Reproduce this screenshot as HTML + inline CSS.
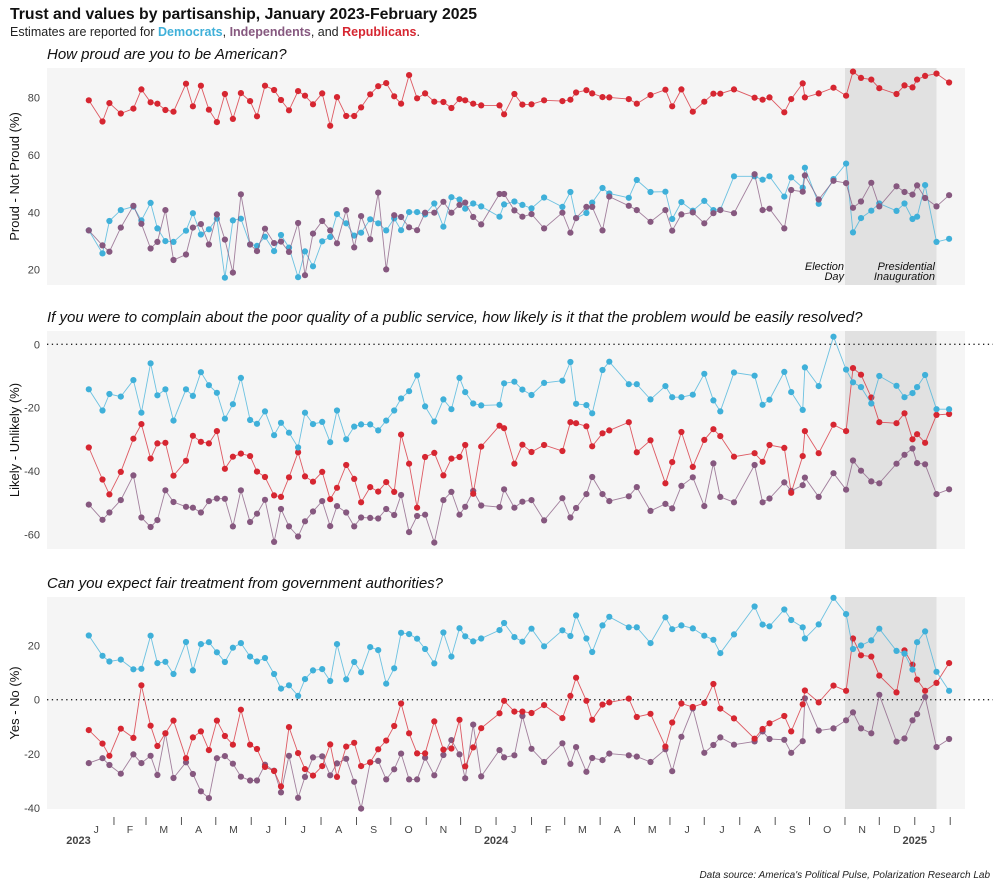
<!DOCTYPE html>
<html><head><meta charset="utf-8">
<style>
body{margin:0;background:#fff;font-family:"Liberation Sans",sans-serif;}
svg text{font-family:"Liberation Sans",sans-serif;}
</style></head>
<body>
<svg id="chart" width="1000" height="881" viewBox="0 0 1000 881" xmlns="http://www.w3.org/2000/svg">
<text x="10" y="19" font-size="15.8" font-weight="bold" fill="#111">Trust and values by partisanship, January 2023-February 2025</text>
<text x="10" y="36" font-size="12.5" fill="#222">Estimates are reported for <tspan fill="#3fb0d9" font-weight="bold">Democrats</tspan>, <tspan fill="#86587f" font-weight="bold">Independents</tspan>, and <tspan fill="#d62631" font-weight="bold">Republicans</tspan>.</text>
<text x="990" y="878" font-size="10" font-style="italic" text-anchor="end" fill="#222">Data source: America's Political Pulse, Polarization Research Lab</text>
<g id="panels"></g>
</svg>
<script>
const days = [9,21,27,37,48,55,63,69,76,83,94,100,107,114,121,128,135,142,150,156,163,171,177,184,192,198,205,213,220,226,234,241,247,255,262,269,276,282,289,296,303,311,319,326,333,338,345,352,
368,372,381,388,396,407,423,430,435,444,449,458,464,481,488,500,513,519,527,537,547,555,561,573,591,598,604,617,623,633,635,647,660,671,677,684,693,700,715,722,729,733,740,750,761];

const proudRep = [79.1,71.7,78.1,74.5,76.2,82.9,78.4,77.9,75.7,75.1,84.9,77,84.2,75.8,71.5,81.3,72.6,81.6,78.8,73.5,84.2,82.7,79.2,75.6,82.3,80.7,77.7,81.5,70.2,80.2,73.6,73.6,76.6,81.2,84,85.1,80.5,77.9,87.9,79.8,81.5,78.6,78.5,76.4,79.5,79.1,77.9,77.3,
77.3,74.2,81.3,77.6,77.7,79.1,78.8,79.3,81.8,82.6,81.5,80.2,80.1,79.5,77.9,80.9,82.8,77,82.9,75.1,78.6,81.4,81.4,82.9,80,79.3,80.1,74.9,79.5,85,80.1,81.5,83.5,80.7,89.1,86.9,86.3,83.3,81.3,84.3,83.6,86.3,87.6,88.4,85.3];
const proudDem = [33.7,25.7,37,40.8,42,37.2,43.3,34.4,30,29.7,33.6,39.7,32.3,34.1,37.8,17.2,37.2,37.8,28.8,28.3,31.5,26.5,32.1,27.7,17.4,26.4,21.2,29.9,31.4,39.4,36.2,31.9,32.9,37.6,36.2,33.7,37.9,33.8,40.1,40.1,39.3,43.1,35,45.3,44.5,41.3,43.1,42.1,
38.5,42.8,43.8,42.6,41.4,45.2,41.9,47.1,38,39.8,43.4,48.5,46.6,45.1,51.3,47.1,47.2,37.7,43.6,40.6,44,40.8,40.9,52.6,52.6,51.4,52.6,45.5,52.2,48.6,55.6,43,51.6,57,33,38,40.6,43.1,40.5,43.1,37.7,38.5,49.5,29.7,30.8];
const proudInd = [33.7,28.5,26.3,34.7,42.3,36,27.4,29.7,40.8,23.4,25.3,34.7,35.9,28.8,39.3,30.5,19,46.3,28.8,26.5,34.3,29.3,29.8,26.2,36.3,18.1,32.6,37,33.7,29.2,40.8,27.8,38.7,30.6,46.9,20.1,39,38.4,34.8,33.8,39.9,39.9,43.7,39.9,42.6,43.4,38.4,35.8,
46.4,46.4,40.7,38.5,39.4,34.4,39.9,32.9,38,41.9,41.9,33.7,45.5,42.3,40.8,36.7,40.8,33.6,39.3,40,36.2,39.7,40.8,39.7,53.3,40.8,41.3,34.4,47.8,47.2,52.9,44.5,51,50.2,41.6,43.8,50.3,42.1,49.1,47.1,46.2,49.4,45,42.1,46];

const compDem = [-14.2,-20.9,-15.7,-16.5,-11.3,-21.6,-6,-16.1,-14.2,-24.1,-14.2,-16.3,-8.8,-12.9,-15.3,-23.5,-18.9,-10.6,-23.9,-25.1,-21.2,-28.7,-24.8,-27.9,-32.6,-21.6,-25.2,-24.5,-30.9,-20.9,-30,-26,-25.3,-25.3,-27.2,-24.1,-20.9,-17.1,-14.8,-9.8,-19.6,-24.4,-17.4,-20.5,-10.6,-15.1,-18.7,-19.3,
-19.1,-12.3,-11.8,-14.3,-16,-12.2,-11.5,-5.6,-18.8,-19.2,-21.8,-8.1,-5.5,-12.6,-12.6,-17.4,-13.2,-16.7,-16.7,-15.9,-9.3,-17.7,-21.2,-8.9,-9.9,-19.1,-17.5,-8.7,-15.1,-20.7,-7.3,-13.2,2.4,-8,-12,-13.5,-18.7,-10,-13.1,-16.7,-15.4,-13.5,-9.7,-20.5,-20.5];
const compRep = [-32.6,-42.7,-47.4,-40.3,-29.8,-25.2,-36.1,-31.3,-31.1,-41.5,-36.8,-28.9,-30.8,-31.3,-27.4,-39.3,-35.5,-34.5,-35.3,-40.2,-41.9,-47.7,-48.2,-42,-34.1,-41.7,-43.4,-40.3,-48.9,-45.3,-38.1,-42.5,-49.9,-45.1,-46.5,-43.5,-46.6,-28.5,-37.7,-51.6,-35.6,-34.3,-41.4,-36.1,-35.6,-31.8,-47.2,-32.3,
-25.7,-26.5,-37.7,-31.7,-34,-31.8,-33.7,-24.6,-24.9,-25.9,-32.2,-28.1,-27.2,-24.6,-34.1,-30.3,-43.9,-37.2,-27.7,-38.7,-30.2,-26.8,-29,-35.5,-34.4,-37.1,-31.8,-32.7,-46.9,-35.3,-27.4,-34.4,-25.4,-27.4,-7.5,-9.6,-16.8,-24.6,-24.9,-21.8,-30,-28.4,-31.1,-22.3,-22];
const compInd = [-50.6,-55.4,-53.1,-49.2,-41.4,-54.7,-57.7,-55.5,-46.1,-49.8,-51.3,-51.6,-53.1,-49.5,-48.7,-48.8,-57.5,-46.1,-56.1,-53.5,-49.1,-62.4,-52,-57.5,-60.7,-55.9,-52.8,-49.5,-57.4,-51.1,-53.1,-57.5,-54.7,-54.8,-55,-52,-53.9,-47.6,-59.3,-54.2,-53.8,-62.6,-49.2,-46.6,-53.8,-51.3,-46.3,-50.9,
-51.4,-45.8,-51.6,-49.7,-49.2,-55.6,-48.6,-54.7,-51.7,-47.3,-41.9,-47.3,-49.5,-48,-45.1,-52.6,-50.4,-51.8,-44.7,-42,-51.1,-37.6,-48.2,-49.9,-38.1,-49.9,-48.7,-43.6,-46.3,-44.5,-42.1,-48.2,-40.7,-45.9,-36.7,-39.9,-43.3,-43.9,-37.7,-34.9,-32.9,-37.5,-37.9,-47.3,-45.8];

const fairDem = [23.7,16.2,14.1,14.8,11.2,11.4,23.6,13.5,14,9.5,21.3,10.8,20.5,21.2,17.5,13.9,19.2,20.9,15.9,14.1,15.4,9.5,4.1,5.3,1.4,7.6,10.8,11.3,6.9,20.5,7.5,13.9,10.1,19.4,18.3,5.9,11.6,24.7,24.2,22.5,18.7,13.4,24.8,15.9,26.4,23.4,21.5,22.6,
25.7,28.3,23.1,21.4,26.2,19.7,25.6,23.5,31.1,22.6,17.6,27.4,30.6,26.7,26.7,20.9,30.4,26,27.4,26.3,23.6,22.1,17.2,24.1,34.4,27.7,27.1,33.3,29.4,26.7,22.6,27.8,37.6,31.6,18.7,20,21.9,26.2,18,17,11.1,21.2,25.2,10.3,3.3];
const fairRep = [-11.2,-16.2,-20.7,-10.7,-14.1,5.3,-9.6,-17.1,-12.4,-7.7,-21.6,-13.9,-11.7,-18.6,-7.7,-13.4,-16.6,-3.7,-16.6,-18.2,-24.8,-26.3,-32,-10.1,-19.7,-25.6,-28,-24.5,-16.5,-28.5,-17.3,-15.9,-24.5,-23.1,-18.3,-15.1,-9.7,-1.4,-12.4,-19.8,-19.8,-8,-18.4,-18,-7.4,-24.6,-17.6,-10.5,
-5,-0.4,-4.4,-4.4,-4.9,-2,-6.8,1.4,8.1,-0.4,-7.4,-1.8,-1,0.4,-6.4,-5.2,-17.3,-8.4,-1.4,-2.7,-1.2,5.8,-3.3,-6.9,-14.4,-10.8,-8.7,-6,-11.7,-1.7,3.4,-1,5.2,3.3,22.6,16.4,15.9,8.9,2.7,18.2,12.9,7.4,3.3,6.2,13.5];
const fairInd = [-23.4,-21.6,-24.1,-27.3,-20.2,-23.4,-20.7,-27.8,-12.4,-28.9,-23.1,-27.4,-33.8,-36.3,-21.6,-20.8,-23.6,-28.4,-29.8,-29.8,-24,-26.2,-34.2,-20.7,-36.2,-28.5,-21.3,-20.9,-27.9,-23.5,-21.8,-30.3,-40.2,-23.1,-22.6,-29.4,-25.7,-19.9,-29.4,-29.4,-21.4,-27.9,-20.4,-14.9,-20.2,-29,-9.2,-28.3,
-18.6,-21.3,-20.5,-6,-18.1,-23,-16.1,-23.7,-17.5,-26.6,-21.5,-22.3,-19.9,-20.5,-21,-23,-18.3,-26.4,-13.7,-3.2,-19.6,-16.7,-13.9,-16.6,-15.4,-11.7,-14.5,-14.8,-19.6,-15.3,0.5,-11.4,-10.6,-7.6,-4.7,-10.6,-12.4,1.8,-15.5,-14.3,-7.6,-5.3,1,-17.5,-14.5];

const monthLabels = ["J","F","M","A","M","J","J","A","S","O","N","D","J","F","M","A","M","J","J","A","S","O","N","D","J"];
const monthStartDays = [0,31,59,90,120,151,181,212,243,273,304,334,365,396,425,456,486,517,547,578,609,639,670,700,731,762];
const yearLabels = ["2023","2024","2025"];
const yearDays = [0,365,731];
const ticks1 = [80,60,40,20], ticks2 = [0,-20,-40,-60], ticks3 = [20,0,-20,-40];
const electionDay = 674, inaugurationDay = 750;

const NS = "http://www.w3.org/2000/svg";
const root = document.getElementById('panels');
const X0 = 47, X1 = 965;
const xOf = d => 78.5 + d * 1.144;
function el(tag, attrs, parent, text){
  const e = document.createElementNS(NS, tag);
  for (const k in attrs) e.setAttribute(k, attrs[k]);
  if (text !== undefined) e.textContent = text;
  (parent || root).appendChild(e);
  return e;
}
const COL = {rep:"#d62631", dem:"#3fb0d9", ind:"#86587f"};

function panel(cfg){
  const g = el('g', {});
  
  
  const yOf = v => cfg.y0 + (cfg.v0 - v) * cfg.k;
  const bg = el('rect', {x:X0, y:cfg.top, width:X1-X0, height:cfg.bottom-cfg.top, fill:"#f5f5f5"}, g);
  
  
  const sh = el('rect', {x:845, y:cfg.top, width:xOf(inaugurationDay)-845, height:cfg.bottom-cfg.top, fill:"#e1e1e1"}, g);
  
  
  const t = el('text', {x:X0, y:cfg.top-9, 'font-size':15, 'font-style':'italic', fill:'#111'}, g, cfg.title);
  
  
  const yt = el('text', {x:0, y:0, 'font-size':13, fill:'#111', 'text-anchor':'middle', transform:`translate(19,${(cfg.top+cfg.bottom)/2}) rotate(-90)`}, g, cfg.ylabel);
  
  
  cfg.ticks.forEach(v => {
    const tl = el('text', {x:40, y:yOf(v)+4, 'font-size':11, fill:'#444', 'text-anchor':'end'}, g, String(v));
    
    
  });
  if (cfg.zero){
    const z = el('line', {x1:X0, x2:X1+28, y1:yOf(0), y2:yOf(0), stroke:'#222', 'stroke-width':1.3, 'stroke-dasharray':'1.3,3.5'}, g);
    
    
  }
  cfg.series.forEach(s => {
    const sg = el('g', {}, g);
    
    
    let d = "";
    s.vals.forEach((v,i) => { d += (i ? "L" : "M") + xOf(days[i]).toFixed(1) + "," + yOf(v).toFixed(1); });
    const p = el('path', {d:d, fill:'none', stroke:s.col, 'stroke-width':0.9, 'stroke-opacity':0.75}, sg);
    
    
    s.vals.forEach((v,i) => {
      const c = el('circle', {cx:xOf(days[i]).toFixed(1), cy:yOf(v).toFixed(1), r:3.1, fill:s.col}, sg);
      
      
    });
  });
  return {g, yOf};
}

panel({name:'proud-panel', title:'How proud are you to be American?', ylabel:'Proud - Not Proud (%)', top:68, bottom:285, y0:97.7, v0:80, k:2.867, ticks:ticks1, zero:false,
  series:[{name:'democrats-series',vals:proudDem,col:COL.dem},{name:'independents-series',vals:proudInd,col:COL.ind},{name:'republicans-series',vals:proudRep,col:COL.rep}]});
panel({name:'complaint-panel', title:'If you were to complain about the poor quality of a public service, how likely is it that the problem would be easily resolved?', ylabel:'Likely - Unlikely (%)', top:331, bottom:549, y0:344.3, v0:0, k:3.167, ticks:ticks2, zero:true,
  series:[{name:'independents-series',vals:compInd,col:COL.ind},{name:'republicans-series',vals:compRep,col:COL.rep},{name:'democrats-series',vals:compDem,col:COL.dem}]});
panel({name:'fair-treatment-panel', title:'Can you expect fair treatment from government authorities?', ylabel:'Yes - No (%)', top:597, bottom:809, y0:699.7, v0:0, k:2.71, ticks:ticks3, zero:true,
  series:[{name:'independents-series',vals:fairInd,col:COL.ind},{name:'republicans-series',vals:fairRep,col:COL.rep},{name:'democrats-series',vals:fairDem,col:COL.dem}]});

const a1 = el('text', {x:844, y:270, 'font-size':11, 'font-style':'italic', fill:'#111', 'text-anchor':'end'}, root, 'Election');


const a1b = el('text', {x:844, y:280, 'font-size':11, 'font-style':'italic', fill:'#111', 'text-anchor':'end'}, root, 'Day');


const a2 = el('text', {x:935, y:270, 'font-size':11, 'font-style':'italic', fill:'#111', 'text-anchor':'end'}, root, 'Presidential');


const a2b = el('text', {x:935, y:280, 'font-size':11, 'font-style':'italic', fill:'#111', 'text-anchor':'end'}, root, 'Inauguration');



const ax = el('g', {});


monthStartDays.forEach((d,i) => {
  if (i > 0) {
    const tk = el('line', {x1:xOf(d), x2:xOf(d), y1:817, y2:825, stroke:'#555', 'stroke-width':1}, ax);
    
    
  }
  if (i < monthLabels.length) {
    const mid = (d + monthStartDays[i+1]) / 2;
    const ml = el('text', {x:xOf(mid), y:833, 'font-size':10.5, fill:'#444', 'text-anchor':'middle'}, ax, monthLabels[i]);
    
    
  }
});
yearLabels.forEach((y,i) => {
  const yl = el('text', {x:xOf(yearDays[i]), y:844, 'font-size':11, 'font-weight':'bold', fill:'#444', 'text-anchor':'middle'}, ax, y);
  
  
});
</script>
</body></html>
